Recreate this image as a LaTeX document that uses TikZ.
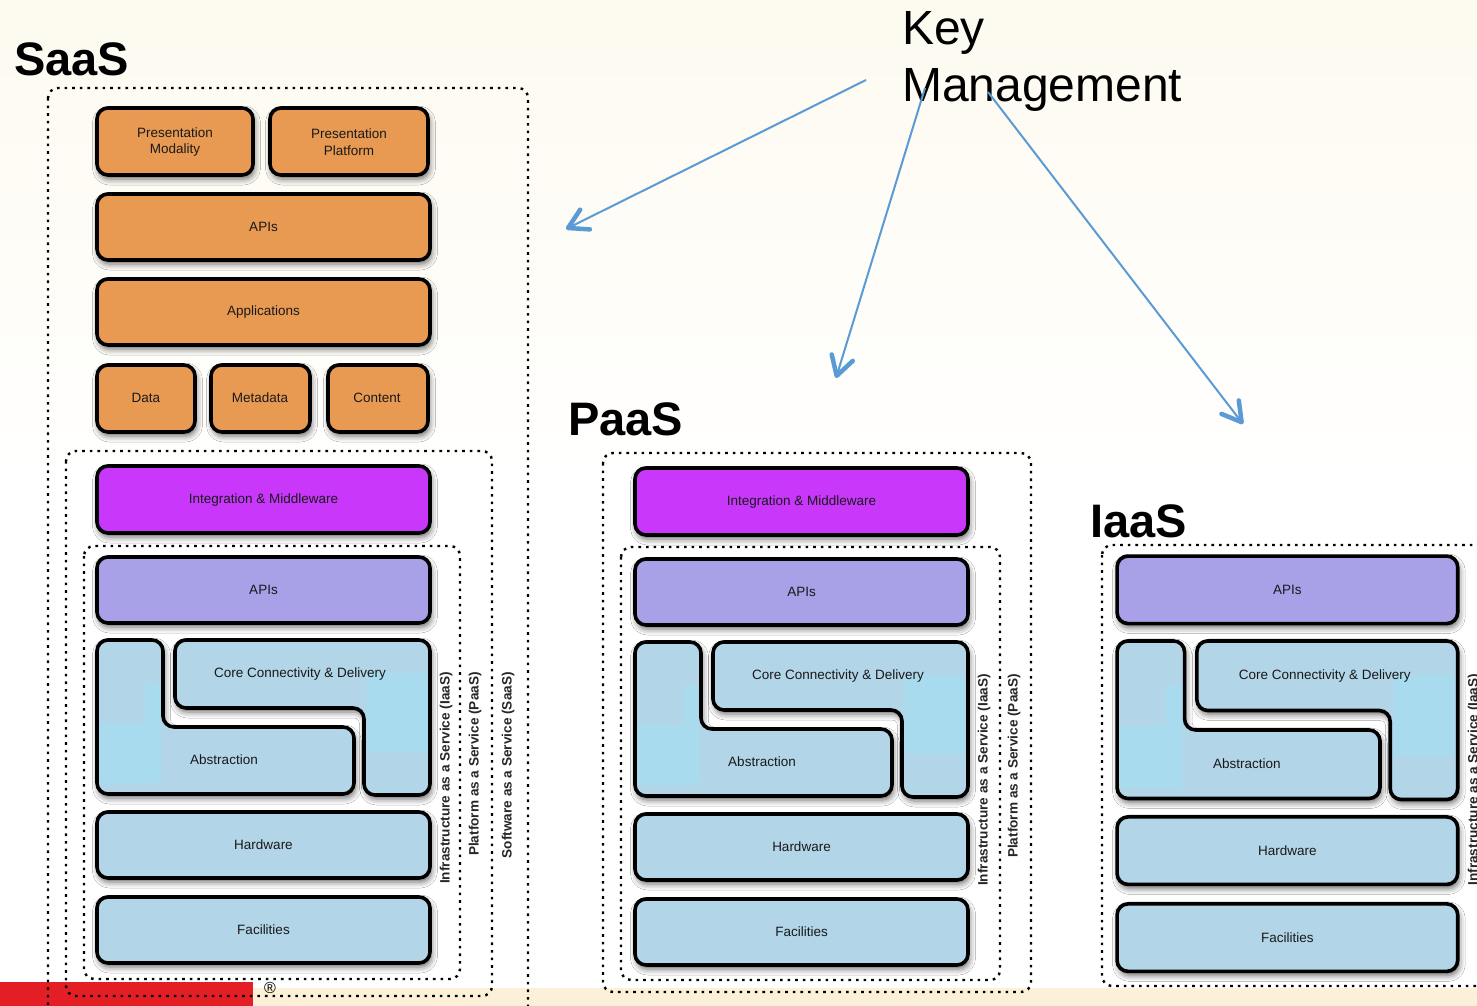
\documentclass[tikz,border=0pt]{standalone}
\usepackage{fontspec}
\setmainfont{Liberation Sans}
\usetikzlibrary{arrows.meta,shadows.blur}

\definecolor{boxorange}{HTML}{E89A52}
\definecolor{boxpurple}{HTML}{C937FB}
\definecolor{boxlav}{HTML}{A8A1E8}
\definecolor{boxblue}{HTML}{B3D5E8}
\definecolor{boxpatch}{HTML}{A7DBED}
\definecolor{keyblue}{HTML}{5B9BD5}
\definecolor{barred}{HTML}{E31E24}
\definecolor{creambot}{HTML}{FBF0D8}
\definecolor{creamtop}{HTML}{FDFAEF}

\tikzset{
  layer/.style={line width=3.6pt, rounded corners=11pt, draw=black},
  layershadow/.style={rounded corners=11pt,
    blur shadow={shadow xshift=1.5pt, shadow yshift=-4pt,
                 shadow blur radius=6pt, shadow opacity=60}},
  lbl/.style={font=\fontsize{13.5}{16.5}\selectfont, text=black!90, align=center},
  patch/.style={fill=boxpatch, rounded corners=3pt},
  tier/.style={line width=2.4pt, dash pattern=on 2.6pt off 5pt, rounded corners=10pt},
  tierlbl/.style={font=\bfseries\fontsize{13.6}{15}\selectfont, text=black!85,
                  rotate=90, anchor=east, inner sep=0pt},
  title/.style={font=\bfseries\fontsize{47}{50}\selectfont, anchor=base west, inner sep=0pt},
  keytext/.style={font=\fontsize{48}{57}\selectfont, anchor=base west, inner sep=0pt},
  keyarrow/.style={draw=keyblue, line width=2pt,
    -{Straight Barb[length=19pt,width=22pt,line width=4.5pt,round]}},
}

% a filled, shadowed, black-rimmed layer rectangle
\newcommand\layerbox[3]{%
  \draw[layer, layershadow, fill=#1] #2 rectangle #3;}

% the two interlocking pieces of the infrastructure block
\newcommand\abstrpath{(2,85) -- (68,85) -- (68,172) -- (259,172) -- (259,239) -- (2,239) -- cycle}
\newcommand\corepath{(80,85) -- (335,85) -- (335,240) -- (269,240) -- (269,153) -- (80,153) -- cycle}

% APIs, core connectivity, abstraction, hardware, facilities (local frame)
\newcommand\infrastack[1]{%
  \layerbox{boxlav}{(2,2)}{(335,68)}
  \node[lbl] (#1apis) at (168.5,35) {APIs};
  \path[layershadow, fill=boxblue] \abstrpath;
  \path[layershadow, fill=boxblue] \corepath;
  \fill[patch] (50,128) rectangle (65,176);
  \fill[patch] (4,168) rectangle (66,228);
  \fill[patch] (272,118) rectangle (332,197);
  \draw[layer] \abstrpath;
  \draw[layer] \corepath;
  \node[lbl] (#1core) at (205,119) {Core Connectivity \& Delivery};
  \node[lbl] (#1abstr) at (129,205) {Abstraction};
  \layerbox{boxblue}{(2,257)}{(335,323)}
  \node[lbl] (#1hw) at (168.5,290) {Hardware};
  \layerbox{boxblue}{(2,342)}{(335,408)}
  \node[lbl] (#1fac) at (168.5,375) {Facilities};
  \node[tierlbl] (#1iaaslbl) at (351,117) {Infrastructure as a Service (IaaS)};
}

\begin{document}
\begin{tikzpicture}[x=1pt, y=-1pt]
\useasboundingbox (0,0) rectangle (1477,1006);
\clip (0,0) rectangle (1477,1006);

% page background
\fill[white] (0,0) rectangle (1477,1006);
\shade[top color=creamtop, bottom color=white] (0,0) rectangle (1477,480);
\fill[creambot] (253,988) rectangle (1477,1006);
\fill[barred] (0,982) rectangle (253,1006);
\node[font=\fontsize{16}{16}\selectfont, inner sep=0pt] (reg) at (270,988) {\textregistered};

% ---------------- SaaS column ----------------
\node[title] (saastitle) at (14,76) {SaaS};
\draw[tier] (48,88) rectangle (528,1020);
\draw[tier] (66,451) rectangle (492,996);
\draw[tier] (84,546) rectangle (460,979);

\layerbox{boxorange}{(97,108)}{(253,175)}
\node[lbl] (pmod) at (175,142) {Presentation\\Modality};
\layerbox{boxorange}{(270,108)}{(428,175)}
\node[lbl] (pplat) at (349,142) {Presentation\\Platform};
\layerbox{boxorange}{(97,194)}{(430,260)}
\node[lbl] (sapis) at (263.5,227) {APIs};
\layerbox{boxorange}{(97,279)}{(430,345)}
\node[lbl] (sapps) at (263.5,312) {Applications};
\layerbox{boxorange}{(97,365)}{(195,432)}
\node[lbl] (sdata) at (146,398) {Data};
\layerbox{boxorange}{(211,365)}{(310,432)}
\node[lbl] (smeta) at (260,398) {Metadata};
\layerbox{boxorange}{(328,365)}{(428,432)}
\node[lbl] (scont) at (377,398) {Content};

\begin{scope}[shift={(95,555)}]
  \layerbox{boxpurple}{(2,-89)}{(335,-22)}
  \node[lbl] (sint) at (168.5,-55) {Integration \& Middleware};
  \infrastack{s}
  \node[tierlbl] (spaaslbl) at (380,117) {Platform as a Service (PaaS)};
  \node[tierlbl] (ssaaslbl) at (413,117) {Software as a Service (SaaS)};
\end{scope}

% ---------------- PaaS column ----------------
\node[title] (paastitle) at (568,435) {PaaS};
\draw[tier] (603,453) rectangle (1031,992);
\draw[tier] (621,547) rectangle (1000,980);
\begin{scope}[shift={(633,557)}]
  \layerbox{boxpurple}{(2,-89)}{(335,-22)}
  \node[lbl] (pint) at (168.5,-55) {Integration \& Middleware};
  \infrastack{p}
  \node[tierlbl] (ppaaslbl) at (381,117) {Platform as a Service (PaaS)};
\end{scope}

% ---------------- IaaS column ----------------
\node[title] (iaastitle) at (1090,537) {IaaS};
\draw[tier] (1102,545) rectangle (1500,986);
\begin{scope}[shift={(1115,554)}, scale=1.023]
  \infrastack{i}
\end{scope}

% ---------------- key management ----------------
\node[keytext] (keyline) at (902,45) {Key};
\node[keytext] (mgmtline) at (902,102) {Management};
\coordinate (k1) at (866,80);
\coordinate (k2) at (925,88);
\coordinate (k3) at (988,92);
\coordinate (t1) at (566,229);
\coordinate (t2) at (836,378);
\coordinate (t3) at (1243,424);
\draw[keyarrow] (k1) -- (t1);
\draw[keyarrow] (k2) -- (t2);
\draw[keyarrow] (k3) -- (t3);
\end{tikzpicture}
\end{document}
